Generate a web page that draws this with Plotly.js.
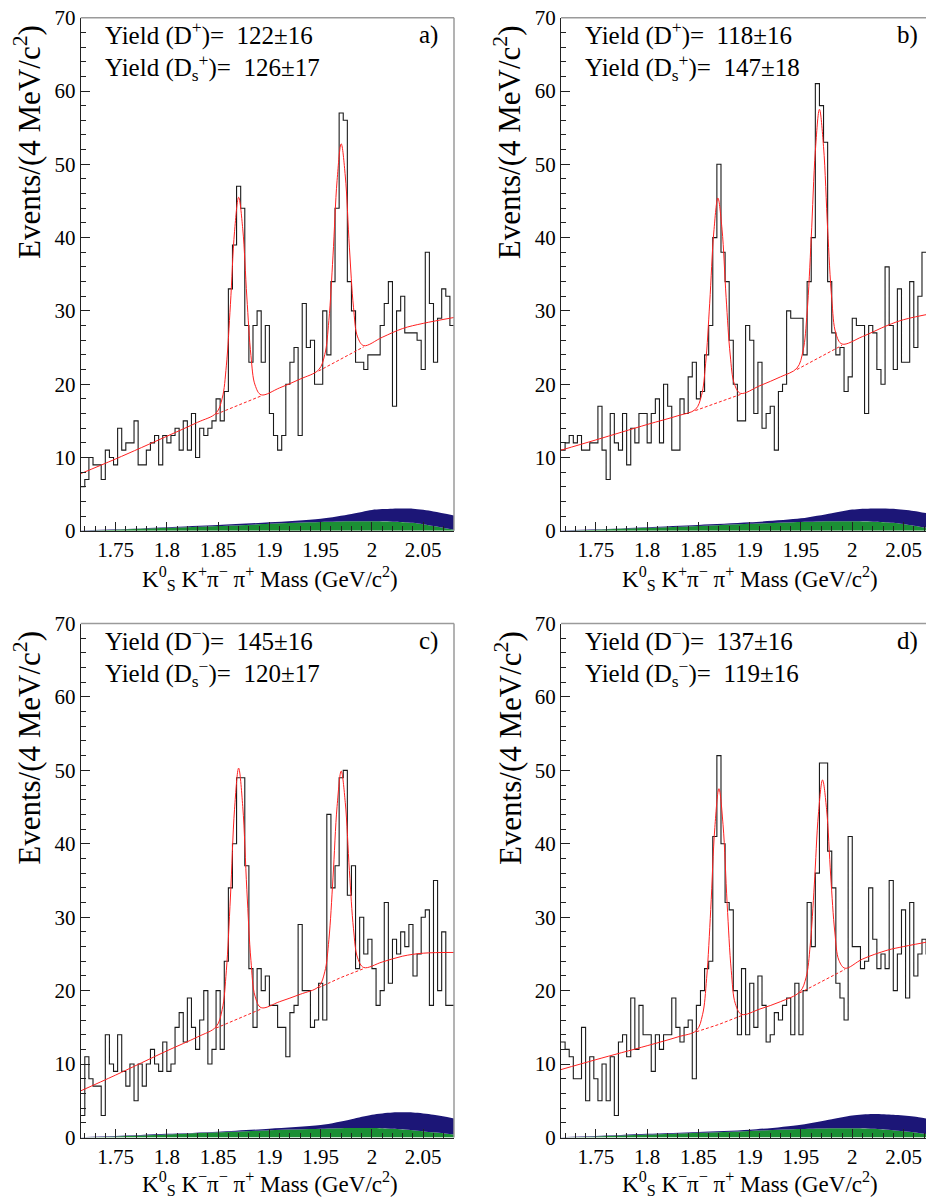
<!DOCTYPE html>
<html><head><meta charset="utf-8">
<script src="https://cdn.plot.ly/plotly-3.0.1.min.js"></script>
<style>html,body{margin:0;padding:0;overflow:hidden;background:#fff}#chart{width:940px;height:1199px}</style>
</head><body><div id="chart"></div>
<script>
// ---------------- data ----------------
const binLow = 1.716, binWidth = 0.004;   // 4 MeV bins
const countsA = [6,7,10,9,9,7,11,10,9,14,11,12,12,15,9,9,11,12,13,9,13,12,13,14,11,15,11,16,10,14,13,14,15,18,15,19,33,39,47,44,28,23,28,30,23,28,16,13,11,13,20,23,25,13,31,25,26,20,20,30,24,34,44,57,56,34,30,23,23,22,24,24,24,28,31,34,17,30,32,27,27,27,26,22,38,31,23,29,33,32,28];
const countsB = [11,12,13,12,13,11,11,12,12,17,11,7,16,12,11,16,9,14,12,16,16,12,16,18,12,20,17,11,11,18,16,21,23,18,19,24,28,40,50,38,34,26,20,15,15,28,26,16,23,14,16,17,11,19,20,30,29,29,29,24,34,40,61,58,53,34,27,24,25,19,21,29,28,28,16,28,27,22,20,36,28,22,33,23,23,34,25,32,38,38,35];
const countsC = [3,11,8,7,7,3,14,10,9,14,9,7,10,5,10,7,10,12,10,9,13,9,10,15,17,13,19,15,12,16,20,10,12,20,12,24,34,40,49,49,37,23,15,23,20,22,18,18,15,15,11,17,18,29,20,20,15,16,21,16,44,34,37,49,50,33,37,23,30,25,27,23,18,20,32,21,27,25,28,26,29,22,25,30,31,18,35,20,28,18,18];
const countsD = [13,12,11,8,8,15,5,11,8,5,10,5,11,3,13,14,11,19,12,18,14,14,9,14,12,14,14,19,15,13,15,16,8,18,20,23,24,41,52,40,32,31,20,14,23,14,21,15,22,18,13,14,17,16,18,19,14,21,14,20,32,26,36,51,51,39,34,21,19,16,41,26,26,23,24,34,27,23,25,23,35,20,25,31,19,32,22,25,27,25,25];

// total fit curves
const fitXA = [1.716,1.75,1.80,1.83,1.848,1.854,1.858,1.862,1.866,1.870,1.874,1.878,1.882,1.886,1.892,1.91,1.93,1.948,1.954,1.958,1.962,1.966,1.970,1.974,1.978,1.982,1.986,1.992,2.01,2.03,2.05,2.08];
const fitYA = [7.8,9.8,12.9,14.8,16.05,18.1,22.5,30.9,40.8,45.5,41.2,31.9,23.9,19.9,18.55,19.5,20.7,21.96,24.05,28.7,37.5,47.8,52.8,48.4,38.7,30.5,26.45,25.26,26.4,27.6,28.3,29.1];
const fitXB = [1.716,1.75,1.80,1.83,1.847,1.853,1.857,1.861,1.865,1.869,1.873,1.877,1.881,1.885,1.891,1.91,1.93,1.946,1.952,1.956,1.960,1.964,1.968,1.972,1.976,1.980,1.984,1.990,2.01,2.034,2.05,2.08];
const fitYB = [11.0,12.4,14.5,15.7,16.55,18.46,22.79,31.05,40.76,45.4,41.16,31.85,23.99,20.06,18.75,19.8,21.0,22.18,24.54,29.85,39.95,51.8,57.5,52.4,41.15,31.65,26.94,25.48,26.5,28.0,28.8,29.7];
const fitXC = [1.716,1.75,1.80,1.83,1.848,1.854,1.858,1.862,1.866,1.870,1.874,1.878,1.882,1.886,1.892,1.91,1.93,1.948,1.954,1.958,1.962,1.966,1.970,1.974,1.978,1.982,1.986,1.992,2.01,2.03,2.05,2.08];
const fitYC = [6.35,8.5,11.8,13.7,15.08,17.45,22.7,32.75,44.7,50.3,45.1,33.75,24.1,19.25,17.68,18.5,19.5,20.55,22.57,26.93,35.35,45.1,49.9,45.6,36.35,28.43,24.47,23.15,23.9,24.7,25.1,25.2];
const fitXD = [1.716,1.75,1.80,1.83,1.848,1.854,1.858,1.862,1.866,1.870,1.874,1.878,1.882,1.886,1.892,1.91,1.93,1.949,1.955,1.959,1.963,1.967,1.971,1.975,1.979,1.983,1.987,1.993,2.01,2.034,2.05,2.08];
const fitYD = [9.25,10.6,12.5,13.7,14.57,16.72,21.67,31.05,42.2,47.5,42.6,31.85,22.77,18.22,16.77,17.5,18.5,19.85,21.83,26.18,34.4,44.04,48.7,44.64,35.6,27.98,24.13,23.05,24.3,25.5,26.0,26.8];

// background under the peaks (dashed)
const bgXA = [1.848,1.870,1.892,null,1.948,1.970,1.992];
const bgYA = [15.9,17.2,18.4,null,21.8,23.4,25.1];
const bgXB = [1.847,1.869,1.891,null,1.946,1.968,1.990];
const bgYB = [16.4,17.5,18.6,null,22.0,23.6,25.3];
const bgXC = [1.848,1.870,1.892,null,1.948,1.970,1.992];
const bgYC = [14.9,16.2,17.5,null,20.4,21.8,23.0];
const bgXD = [1.848,1.870,1.892,null,1.949,1.971,1.993];
const bgYD = [14.4,15.4,16.6,null,19.7,21.3,22.9];

// stacked filled backgrounds (green below, blue on top)
const fillX  = [1.716,1.75,1.80,1.85,1.90,1.95,1.98,2.00,2.02,2.04,2.06,2.08];
const greenA = [0.0,0.15,0.4,0.65,0.95,1.2,1.3,1.3,1.25,1.1,0.65,0.15];
const blueA  = [0.05,0.2,0.5,0.8,1.15,1.65,2.3,2.85,3.0,3.0,2.65,2.1];
const greenB = [0.0,0.15,0.4,0.65,0.95,1.2,1.3,1.3,1.25,1.1,0.7,0.2];
const blueB  = [0.05,0.2,0.5,0.8,1.15,1.7,2.4,2.9,3.05,3.0,2.7,2.2];
const greenC = [0.0,0.15,0.4,0.7,1.0,1.2,1.3,1.3,1.2,1.0,0.7,0.4];
const blueC  = [0.05,0.2,0.5,0.8,1.2,1.7,2.5,3.1,3.4,3.4,3.1,2.6];
const greenD = [0.0,0.15,0.4,0.65,0.9,1.15,1.25,1.27,1.2,1.0,0.72,0.27];
const blueD  = [0.05,0.2,0.5,0.75,1.05,1.75,2.5,3.0,3.2,3.1,2.85,2.4];

// ticks and labels
const xTickVals = [1.75,1.8,1.85,1.9,1.95,2,2.05];
const xTickText = ['1.75','1.8','1.85','1.9','1.95','2','2.05'];
const yTickVals = [0,10,20,30,40,50,60,70];
const yTickText = ['0','10','20','30','40','50','60','70'];
const panelLetters = ['a)','b)','c)','d)'];
const yieldLine1 = ['Yield (D<sup>+</sup>)=&nbsp; 122±16','Yield (D<sup>+</sup>)=&nbsp; 118±16','Yield (D<sup>−</sup>)=&nbsp; 145±16','Yield (D<sup>−</sup>)=&nbsp; 137±16'];
const yieldLine2 = ['Yield (D<sub>s</sub><sup>+</sup>)=&nbsp; 126±17','Yield (D<sub>s</sub><sup>+</sup>)=&nbsp; 147±18','Yield (D<sub>s</sub><sup>−</sup>)=&nbsp; 120±17','Yield (D<sub>s</sub><sup>−</sup>)=&nbsp; 119±16'];
const xTitles = ['K<sup>0</sup><sub>S</sub> K<sup>+</sup>π<sup>−</sup> π<sup>+</sup> Mass (GeV/c<sup>2</sup>)','K<sup>0</sup><sub>S</sub> K<sup>+</sup>π<sup>−</sup> π<sup>+</sup> Mass (GeV/c<sup>2</sup>)','K<sup>0</sup><sub>S</sub> K<sup>−</sup>π<sup>−</sup> π<sup>+</sup> Mass (GeV/c<sup>2</sup>)','K<sup>0</sup><sub>S</sub> K<sup>−</sup>π<sup>−</sup> π<sup>+</sup> Mass (GeV/c<sup>2</sup>)'];
const yTitle = 'Events/(4 MeV/c<sup>2</sup>)';

// ---------------- layout geometry ----------------
const W = 940, H = 1199;
const FONT = 'Liberation Serif';
const panels = [
  {counts:countsA, fx:fitXA, fy:fitYA, bx:bgXA, by:bgYA, g:greenA, b:blueA, x0:80.7, x1:454.0, y0:17.7, y1:530.8, tY:578},
  {counts:countsB, fx:fitXB, fy:fitYB, bx:bgXB, by:bgYB, g:greenB, b:blueB, x0:561.0, x1:934.3, y0:17.7, y1:530.8, tY:578},
  {counts:countsC, fx:fitXC, fy:fitYC, bx:bgXC, by:bgYC, g:greenC, b:blueC, x0:80.7, x1:454.0, y0:623.5, y1:1137.5, tY:1183},
  {counts:countsD, fx:fitXD, fy:fitYD, bx:bgXD, by:bgYD, g:greenD, b:blueD, x0:561.0, x1:934.3, y0:623.5, y1:1137.5, tY:1183}
];
const px = v => v / W, py = v => 1 - v / H;

const traces = [], layout = {
  width: W, height: H, margin:{l:0,r:0,t:0,b:0,pad:0},
  paper_bgcolor:'#fff', plot_bgcolor:'#fff', showlegend:false,
  font:{family:FONT, color:'#000', size:21},
  annotations:[], shapes:[]
};

panels.forEach((p, k) => {
  const n = k === 0 ? '' : String(k + 1);
  const xa = 'x' + n, ya = 'y' + n;
  traces.push({type:'scatter', mode:'lines', x:fillX, y:p.g, xaxis:xa, yaxis:ya,
    line:{width:0, shape:'spline', smoothing:0.8}, fill:'tozeroy', fillcolor:'#1b8f34', hoverinfo:'skip'});
  traces.push({type:'scatter', mode:'lines', x:fillX, y:p.b, xaxis:xa, yaxis:ya,
    line:{width:0, shape:'spline', smoothing:0.8}, fill:'tonexty', fillcolor:'#1c1677', hoverinfo:'skip'});
  const hx = p.counts.map((c, i) => binLow + i * binWidth);
  hx.push(binLow + p.counts.length * binWidth);
  const hy = p.counts.slice(); hy.push(p.counts[p.counts.length - 1]);
  traces.push({type:'scatter', mode:'lines', x:hx, y:hy, xaxis:xa, yaxis:ya,
    line:{shape:'hv', color:'#1a1a1a', width:1.1}, hoverinfo:'skip'});
  traces.push({type:'scatter', mode:'lines', x:p.bx, y:p.by, xaxis:xa, yaxis:ya,
    line:{color:'#ff2020', width:1, dash:'3px,2px'}, connectgaps:false, hoverinfo:'skip'});
  traces.push({type:'scatter', mode:'lines', x:p.fx, y:p.fy, xaxis:xa, yaxis:ya,
    line:{color:'#ff2020', width:1, shape:'spline', smoothing:1}, hoverinfo:'skip'});

  layout['xaxis' + n] = {
    domain:[px(p.x0), px(p.x1)], anchor:ya, range:[1.716, 2.08],
    tickmode:'array', tickvals:xTickVals, ticktext:xTickText,
    ticks:'inside', ticklen:9, tickwidth:1, tickcolor:'#222',
    minor:{ticks:'inside', ticklen:5, tickwidth:1, tickcolor:'#222', tickmode:'linear', tick0:1.72, dtick:0.01, showgrid:false},
    showline:true, linecolor:'#222', linewidth:1, mirror:false,
    showgrid:false, zeroline:false, tickfont:{family:FONT, size:21, color:'#000'}
  };
  layout['yaxis' + n] = {
    domain:[py(p.y1), py(p.y0)], anchor:xa, range:[0, 70],
    tickmode:'array', tickvals:yTickVals, ticktext:yTickText,
    ticks:'inside', ticklen:9, tickwidth:1, tickcolor:'#222',
    minor:{ticks:'inside', ticklen:5, tickwidth:1, tickcolor:'#222', tickmode:'linear', tick0:0, dtick:2, showgrid:false},
    showline:true, linecolor:'#222', linewidth:1, mirror:false,
    showgrid:false, zeroline:false, tickfont:{family:FONT, size:21, color:'#000'}
  };
  layout.shapes.push({type:'line', xref:xa + ' domain', yref:ya + ' domain', x0:0, x1:1, y0:1, y1:1, line:{color:'#9a9a9a', width:1.5}});
  layout.shapes.push({type:'line', xref:xa + ' domain', yref:ya + ' domain', x0:1, x1:1, y0:0, y1:1, line:{color:'#9a9a9a', width:1.5}});

  const dx = p.x0 - 80.7, dy = p.y0 - 17.7;
  const A = (text, x, y, opts) => layout.annotations.push(Object.assign({
    text, xref:'paper', yref:'paper', x:px(x), y:py(y), showarrow:false,
    font:{family:FONT, size:25, color:'#000'}, borderpad:0, borderwidth:0
  }, opts));
  A(yieldLine1[k] + '<br>' + yieldLine2[k], 105 + dx, 17 + dy, {xanchor:'left', yanchor:'top', align:'left'});
  A(panelLetters[k], 438 + dx, 35 + dy, {xanchor:'right', yanchor:'middle'});
  A(yTitle, 28 + dx, 142 + dy, {xanchor:'center', yanchor:'middle', textangle:-90, font:{family:FONT, size:31, color:'#000'}});
  A(xTitles[k], 270 + dx, p.tY, {xanchor:'center', yanchor:'middle', font:{family:FONT, size:23, color:'#000'}});
});

Plotly.newPlot('chart', traces, layout, {staticPlot:true, displayModeBar:false});
</script>
</body></html>
